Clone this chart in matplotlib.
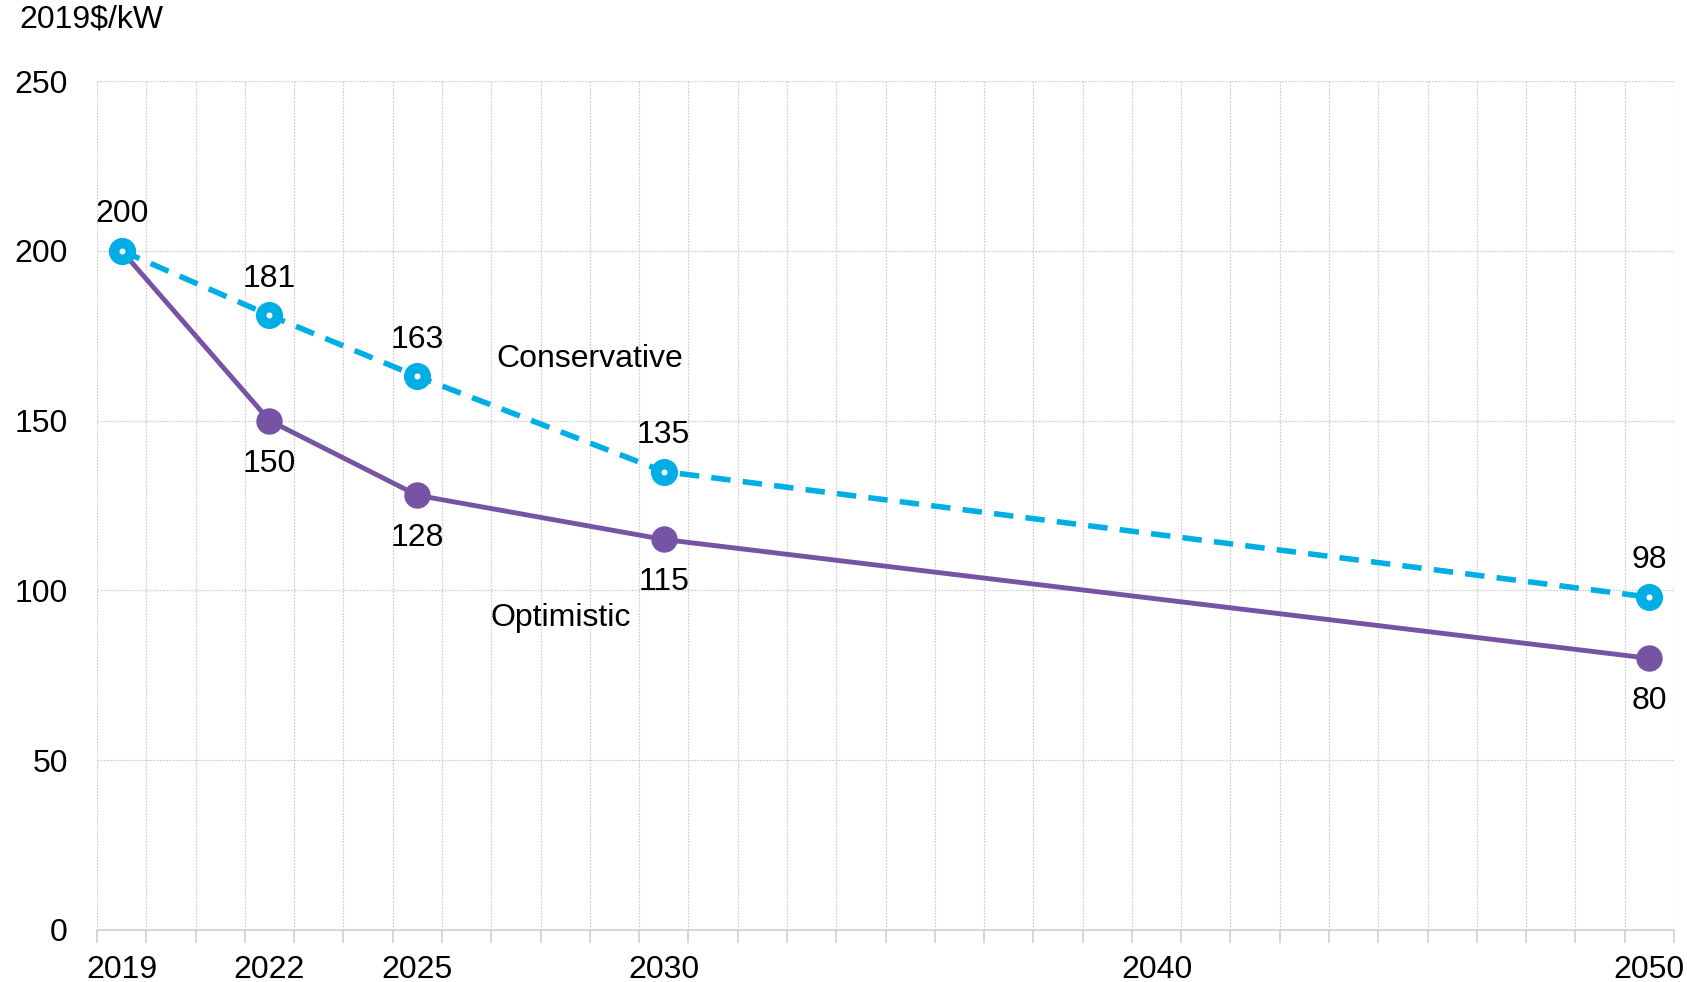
import matplotlib
matplotlib.use("Agg")
import matplotlib.pyplot as plt
import numpy as np

plt.rcParams['font.family'] = ['Liberation Sans', 'DejaVu Sans']

years = [2019, 2022, 2025, 2030, 2050]
conservative = [200, 181, 163, 135, 98]
optimistic = [200, 150, 128, 115, 80]
tick_years = [2019, 2022, 2025, 2030, 2040, 2050]
yticks = [0, 50, 100, 150, 200, 250]

purple = '#7753A5'
cyan = '#00AEE6'
grid_c = '#D0D0D0'
FS = 23

fig = plt.figure(figsize=(16.87, 9.82), dpi=100)
ax = fig.add_axes([0.0575, 0.053, 0.9348, 0.8645])

ax.set_xlim(2018.5, 2050.5)
ax.set_ylim(0, 250)

# grid
for b in np.arange(2018.5, 2051, 1.0):
    ax.axvline(b, color=grid_c, lw=0.9, ls=(0, (1.5, 1.0)), zorder=0)
for yv in yticks[1:]:
    ax.axhline(yv, color=grid_c, lw=0.9, ls=(0, (1.5, 1.0)), zorder=0)

ax.plot(years, optimistic, color=purple, lw=3.5, marker='o', ms=18,
        mfc=purple, mec=purple, zorder=3, solid_capstyle='round')
ax.plot(years, conservative, color=cyan, lw=4, ls=(0, (3.5, 2.2)),
        marker='o', ms=12, mfc='white', mec=cyan, mew=7.5, zorder=4)

for x, v in zip(years, conservative):
    ax.annotate(str(v), (x, v), xytext=(0, 26.5), textcoords='offset points',
                ha='center', va='center', fontsize=FS, zorder=5)
for x, v in zip(years[1:], optimistic[1:]):
    ax.annotate(str(v), (x, v), xytext=(0, -31), textcoords='offset points',
                ha='center', va='center', fontsize=FS, zorder=5)

ax.text(2028.5, 168, 'Conservative', ha='center', va='center', fontsize=FS)
ax.text(2027.9, 92, 'Optimistic', ha='center', va='center', fontsize=FS)

ax.set_yticks(yticks)
ax.set_yticklabels([str(t) for t in yticks], fontsize=FS)
ax.tick_params(axis='y', length=0, pad=21)

ax.set_xticks(np.arange(2018.5, 2051, 1.0))
ax.set_xticklabels([])
ax.set_xticks(tick_years, minor=True)
ax.set_xticklabels([str(t) for t in tick_years], minor=True, fontsize=FS)
ax.tick_params(axis='x', which='major', length=9, color=grid_c, width=1.2)
ax.tick_params(axis='x', which='minor', length=0, pad=18)

for s in ['top', 'right', 'left']:
    ax.spines[s].set_visible(False)
ax.spines['bottom'].set_color(grid_c)
ax.spines['bottom'].set_linewidth(1.2)

fig.text(19 / 1687, 1 - 20 / 982, '2019$/kW', ha='left', va='center', fontsize=FS)

fig.savefig('out.png', dpi=100)
